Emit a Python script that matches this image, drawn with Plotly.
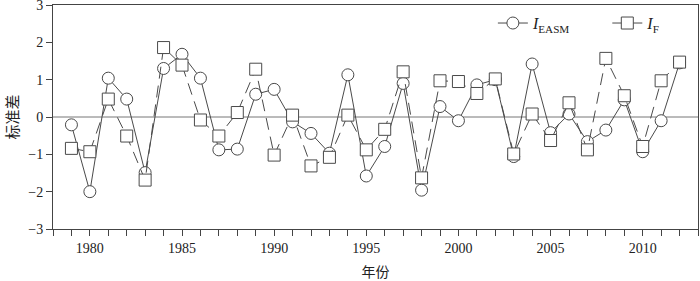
import plotly.graph_objects as go

years = list(range(1979, 2013))
i_easm = [-0.21, -2.00, 1.04, 0.48, -1.49, 1.30, 1.68, 1.04, -0.88, -0.86,
          0.61, 0.74, -0.13, -0.44, -0.97, 1.13, -1.58, -0.79, 0.90, -1.96,
          0.28, -0.10, 0.86, 1.00, -1.06, 1.42, -0.42, 0.08, -0.66, -0.35,
          0.46, -0.93, -0.10, 1.45]
i_f = [-0.84, -0.93, 0.48, -0.51, -1.69, 1.86, 1.39, -0.08, -0.51, 0.12,
       1.28, -1.02, 0.05, -1.31, -1.08, 0.05, -0.88, -0.33, 1.21, -1.63,
       0.97, 0.95, 0.63, 1.02, -0.99, 0.08, -0.63, 0.38, -0.88, 1.57,
       0.57, -0.79, 0.97, 1.47]

x_ticks = [1980, 1985, 1990, 1995, 2000, 2005, 2010]
y_ticks = [-3, -2, -1, 0, 1, 2, 3]
y_ticklabels = ["\u22123", "\u22122", "\u22121", "0", "1", "2", "3"]

serif = "Liberation Serif, Times New Roman, serif"
cjk = "Noto Sans CJK SC"
lc = "#4a4a4a"
pad = "\u00a0" * 8

fig = go.Figure()
fig.add_trace(go.Scatter(
    x=years, y=i_easm, mode="lines+markers",
    name="<i>I</i><sub>EASM</sub>" + pad,
    line=dict(color=lc, width=1),
    marker=dict(symbol="circle", size=12, color="white",
                line=dict(color=lc, width=1)),
    cliponaxis=False,
))
fig.add_trace(go.Scatter(
    x=years, y=i_f, mode="lines+markers",
    name="<i>I</i><sub>F</sub>",
    line=dict(color=lc, width=1, dash="12px,7px"),
    marker=dict(symbol="square", size=12, color="white",
                line=dict(color=lc, width=1)),
    cliponaxis=False,
))

fig.add_hline(y=0, line=dict(color="#777777", width=1), layer="below")

fig.update_layout(
    width=700, height=281,
    margin=dict(l=53, r=2, t=5, b=52),
    plot_bgcolor="white", paper_bgcolor="white",
    font=dict(family=serif, size=14, color="#222222"),
    showlegend=True,
    legend=dict(orientation="h", x=0.682, xanchor="left", y=0.995, yanchor="top",
                bgcolor="rgba(0,0,0,0)", font=dict(family=serif, size=16),
                tracegroupgap=0),
    xaxis=dict(range=[1978, 2013], tickmode="array", tickvals=x_ticks,
               ticks="outside", ticklen=6, tickcolor="#444444",
               showline=True, linecolor="#444444", linewidth=1, mirror=True,
               showgrid=False, zeroline=False, automargin=False,
               minor=dict(dtick=1, tick0=1978, ticks="outside", ticklen=6,
                          tickcolor="#444444", showgrid=False),
               title=dict(text="年份", font=dict(family=cjk, size=14), standoff=12)),
    yaxis=dict(range=[-3, 3], tickmode="array", tickvals=y_ticks,
               ticktext=y_ticklabels, automargin=False, ticklabeloverflow="allow",
               ticks="outside", ticklen=6, tickcolor="#444444",
               showline=True, linecolor="#444444", linewidth=1, mirror=True,
               showgrid=False, zeroline=False,
               title=dict(text="标准差", font=dict(family=cjk, size=15), standoff=6)),
)

fig.write_html("out.html", config={"displayModeBar": False},
               post_script="document.body.style.margin='0';document.body.style.overflow='hidden';")
